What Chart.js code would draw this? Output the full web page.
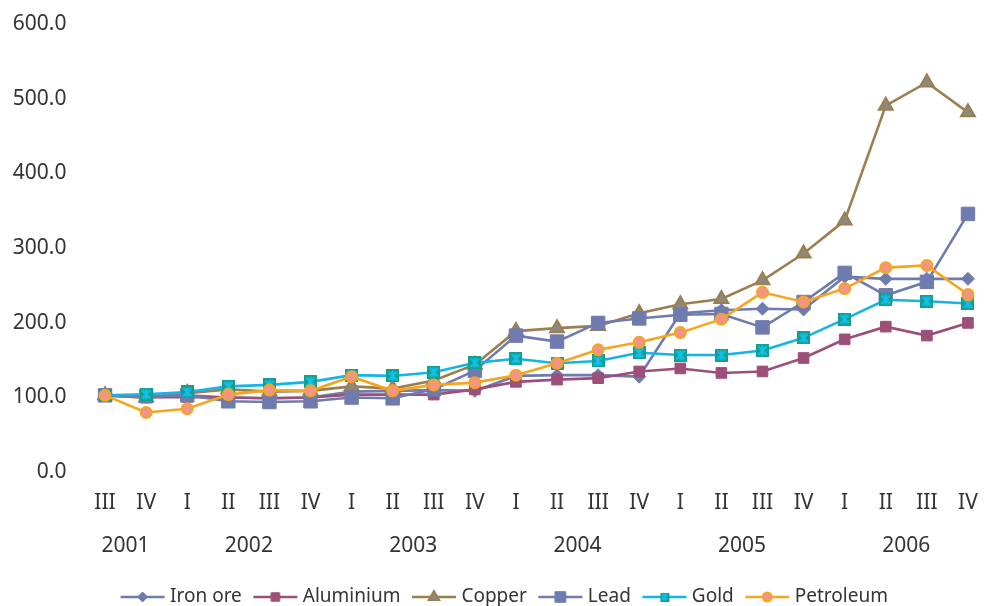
<!DOCTYPE html>
<html><head><meta charset="utf-8">
<script src="https://cdn.jsdelivr.net/npm/chart.js@4.4.1/dist/chart.umd.min.js"></script>
<style>html,body{margin:0;padding:0;background:#fff;overflow:hidden}#wrap{width:985px;height:606px;overflow:hidden}canvas{display:block}</style>
</head><body>
<div id="wrap"><canvas id="c" width="992" height="606" style="width:992px;height:606px"></canvas></div>
<script>
const quarters = ['III','IV','I','II','III','IV','I','II','III','IV','I','II','III','IV','I','II','III','IV','I','II','III','IV'];
const quarterYears = ['2001','2001','2002','2002','2002','2002','2003','2003','2003','2003','2004','2004','2004','2004','2005','2005','2005','2005','2006','2006','2006','2006'];
const seriesNames = ['Iron ore','Aluminium','Copper','Lead','Gold','Petroleum'];
const ironOre   = [100, 98, 100, 97, 96, 97, 105, 106, 107, 106, 126, 127, 127, 125, 210, 214, 216, 215, 259, 256, 256, 256];
const aluminium = [100, 97, 98, 97, 96, 97, 101, 101, 101, 108, 118, 121, 123, 132, 136, 130, 132, 150, 175, 192, 180, 197];
const copper    = [100, 97, 103, 108, 105, 106, 112, 109, 120, 141, 186, 190, 193, 210, 222, 229, 254, 290, 334, 488, 519, 479];
const lead      = [100, 99, 100, 92, 91, 92, 97, 96, 108, 133, 180, 172, 197, 203, 208, 209, 191, 225, 264, 234, 252, 343];
const gold      = [100, 101.5, 104.5, 112, 114, 118, 127, 126, 131, 143.5, 149, 143, 146, 157, 154, 154, 160, 177, 202, 228, 226, 223];
const petroleum = [100, 77, 82, 101, 107, 106, 125, 106, 114, 117, 127, 143, 161, 171, 184, 202, 238, 225, 243, 271, 274, 235];
const yTicks = [0, 100, 200, 300, 400, 500, 600];

// year groups -> centre (in category index units)
const yearNames = [];
const yearCenters = [];
(function(){
  let start = 0;
  for (let i = 1; i <= quarterYears.length; i++) {
    if (i === quarterYears.length || quarterYears[i] !== quarterYears[start]) {
      yearNames.push(quarterYears[start]);
      yearCenters.push((start + i - 1) / 2);
      start = i;
    }
  }
})();

const FONT = "'Noto Sans', 'DejaVu Sans', sans-serif";
const TEXT = '#333333';

function goldMarker(size) {
  const c = document.createElement('canvas');
  c.width = size; c.height = size;
  const g = c.getContext('2d');
  g.fillStyle = '#12A08C';
  g.fillRect(0, 0, size, size);
  g.strokeStyle = '#10C0F0';
  g.lineWidth = size > 10 ? 2.2 : 1.6;
  const m = size * 0.18;
  g.beginPath();
  g.moveTo(m, m); g.lineTo(size - m, size - m);
  g.moveTo(size - m, m); g.lineTo(m, size - m);
  g.moveTo(size / 2, m * 0.6); g.lineTo(size / 2, size - m * 0.6);
  g.stroke();
  return c;
}
const goldImg = goldMarker(13);
const goldLegendImg = goldMarker(9);

const styles = [
  {line:'#6F7BAE', ps:'rectRot', r:6.5, bg:'#6F7BAE', bd:'#6F7BAE', bw:1, lr:5},
  {line:'#9C4F78', ps:'rect', r:7.5, bg:'#9C4F78', bd:'#9C4F78', bw:1, lr:6},
  {line:'#9C7F50', ps:'triangle', r:8, bg:'#8C887C', bd:'#9C7F50', bw:2, lr:6},
  {line:'#6F7BAE', ps:'rect', r:9.5, bg:'#6F7BAE', bd:'#6F7BAE', bw:1, lr:7.5},
  {line:'#14B4E8', ps:goldImg, r:7, bg:'#12A08C', bd:'#12A08C', bw:0, lr:5, legendImg: goldLegendImg},
  {line:'#F7A51F', ps:'circle', r:5.5, bg:'#F2948A', bd:'#F7A51F', bw:2, lr:4.5}
];
const values = [ironOre, aluminium, copper, lead, gold, petroleum];

function legendImage(s) {
  const c = document.createElement('canvas');
  c.width = 46; c.height = 18;
  const g = c.getContext('2d');
  g.strokeStyle = s.line; g.lineWidth = 2.5;
  g.beginPath(); g.moveTo(1, 9); g.lineTo(45, 9); g.stroke();
  if (s.legendImg) {
    g.drawImage(s.legendImg, 23 - s.legendImg.width / 2, 9 - s.legendImg.height / 2);
  } else {
    g.fillStyle = s.bg; g.strokeStyle = s.bd; g.lineWidth = s.bw;
    Chart.helpers.drawPoint(g, {pointStyle: s.ps, radius: s.lr, rotation: 0, borderWidth: s.bw}, 23, 9);
  }
  return c;
}
const legendImgs = styles.map(legendImage);

const datasets = seriesNames.map((name, i) => ({
  label: name,
  data: values[i],
  borderColor: styles[i].line,
  backgroundColor: styles[i].bg,
  borderWidth: 2.6,
  tension: 0,
  fill: false,
  pointStyle: styles[i].ps,
  pointRadius: styles[i].r,
  pointHoverRadius: styles[i].r,
  pointBackgroundColor: styles[i].bg,
  pointBorderColor: styles[i].bd,
  pointBorderWidth: styles[i].bw,
  order: seriesNames.length - 1 - i
}));

const legendShift = {
  id: 'legendShift',
  afterLayout(chart) {
    if (chart.legend) { chart.legend.left += 12; chart.legend.right += 12; }
  }
};
const noPad = (s) => { s.paddingLeft = 0; s.paddingRight = 0; s.paddingTop = 0; s.paddingBottom = 0; };

new Chart(document.getElementById('c').getContext('2d'), {
  type: 'line',
  data: { labels: quarters, datasets },
  plugins: [legendShift],
  options: {
    responsive: false,
    animation: false,
    layout: { autoPadding: false, padding: { top: 22, right: 3.5, left: 0, bottom: 0 } },
    plugins: {
      tooltip: { enabled: false },
      legend: {
        position: 'bottom',
        maxHeight: 34,
        labels: {
          usePointStyle: true,
          pointStyleWidth: 36,
          padding: 15.5,
          color: TEXT,
          font: { family: FONT, size: 19 },
          generateLabels: (chart) => chart.data.datasets.map((ds, i) => ({
            text: ds.label, pointStyle: legendImgs[i], fillStyle: styles[i].bg,
            strokeStyle: styles[i].line, lineWidth: 0, hidden: false, datasetIndex: i, fontColor: TEXT
          }))
        }
      }
    },
    scales: {
      x: {
        type: 'category', offset: true,
        grid: { display: false, drawTicks: false },
        border: { display: false },
        ticks: { color: TEXT, font: { family: FONT, size: 21 }, padding: 20, autoSkip: false, maxRotation: 0, minRotation: 0 },
        afterFit: (s) => { s.height = 43; noPad(s); }
      },
      x2: {
        type: 'linear', position: 'bottom', weight: 1,
        min: -0.5, max: quarters.length - 0.5,
        grid: { display: false, drawTicks: false },
        border: { display: false },
        afterBuildTicks: (s) => { s.ticks = yearCenters.map(v => ({ value: v })); },
        ticks: { color: TEXT, font: { family: FONT, size: 21 }, padding: 20, autoSkip: false, maxRotation: 0, minRotation: 0,
          callback: (v, i) => yearNames[i] },
        afterFit: (s) => { s.height = 59; noPad(s); }
      },
      y: {
        min: yTicks[0], max: yTicks[yTicks.length - 1],
        grid: { display: false, drawTicks: false },
        border: { display: false },
        afterBuildTicks: (s) => { s.ticks = yTicks.map(v => ({ value: v })); },
        ticks: { color: TEXT, font: { family: FONT, size: 21 }, padding: 18, labelOffset: 2, callback: (v) => Number(v).toFixed(1) },
        afterFit: (s) => { s.width = 84.5; noPad(s); }
      }
    }
  }
});
</script>
</body></html>
